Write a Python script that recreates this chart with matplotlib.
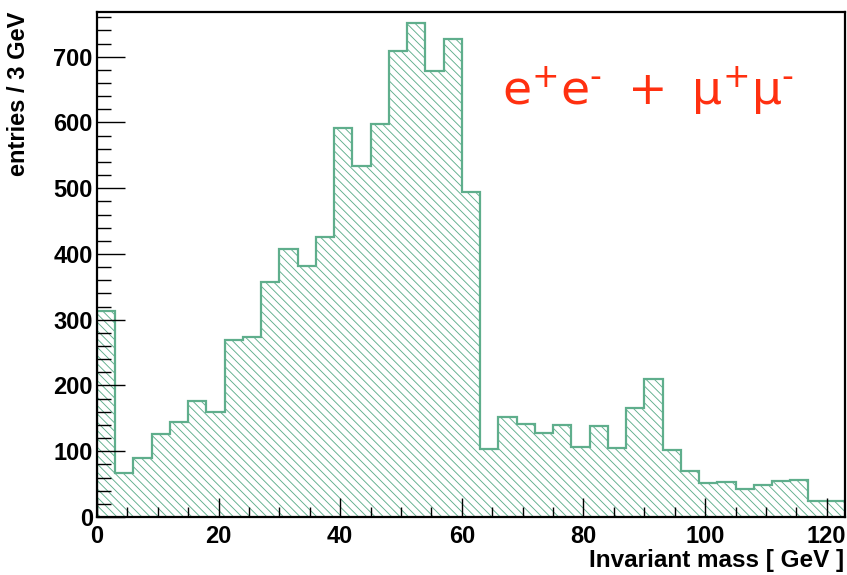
import numpy as np
import matplotlib
matplotlib.use("Agg")
import matplotlib.pyplot as plt
from matplotlib.ticker import MultipleLocator

# Data: 3 GeV bins from 0 to 123 GeV
bin_edges = np.arange(0, 124, 3)
entries = [314, 67, 89, 126, 144, 176, 159, 269, 273, 358,
           408, 381, 426, 592, 534, 598, 708, 751, 679, 727,
           494, 103, 152, 141, 128, 140, 107, 138, 105, 165,
           210, 102, 70, 52, 53, 42, 48, 54, 56, 25, 25]
x_ticks = [0, 20, 40, 60, 80, 100, 120]
y_ticks = [0, 100, 200, 300, 400, 500, 600, 700]

green = "#5fae8c"
red = "#ff3010"
plt.rcParams["font.family"] = ["Liberation Sans", "DejaVu Sans"]
plt.rcParams["hatch.linewidth"] = 0.65

fig = plt.figure(figsize=(8.47, 5.75), dpi=100)
ax = fig.add_axes([0.1145, 0.1009, 0.8831, 0.8782])

ax.stairs(entries, bin_edges, fill=True, facecolor="white", edgecolor=green,
          linewidth=0, hatch="\\\\\\\\", baseline=0)
ax.stairs(entries, bin_edges, fill=False, edgecolor=green, linewidth=1.6, baseline=0)

ax.set_xlim(0, 123)
ax.set_ylim(0, 768)
ax.set_xticks(x_ticks)
ax.set_yticks(y_ticks)
ax.xaxis.set_minor_locator(MultipleLocator(5))
ax.yaxis.set_minor_locator(MultipleLocator(20))
ax.tick_params(which="both", direction="in", top=False, right=False, color="black")
ax.tick_params(axis="y", which="major", length=20, width=1.0, pad=3)
ax.tick_params(axis="y", which="minor", length=10, width=1.0)
ax.tick_params(axis="x", which="major", length=14, width=1.0, pad=6)
ax.tick_params(axis="x", which="minor", length=7, width=1.0)
for lab in ax.get_xticklabels() + ax.get_yticklabels():
    lab.set_fontweight("bold")
    lab.set_fontsize(17)
for sp in ax.spines.values():
    sp.set_linewidth(1.6)

fig.text(0.997, 0.026, "Invariant mass [ GeV ]", ha="right", va="center",
         fontsize=17.5, fontweight="bold")
fig.text(0.022, 0.979, "entries / 3 GeV", ha="center", va="top", rotation=90,
         fontsize=17, fontweight="bold")

fig.text(0.593, 0.817, "$\\mathregular{e^{+}e^{\u2010}\\ +\\ μ^{+}μ^{\u2010}}$", color=red,
         fontsize=34, ha="left", va="baseline", family=["DejaVu Sans"])

fig.savefig("out.png", dpi=100)
